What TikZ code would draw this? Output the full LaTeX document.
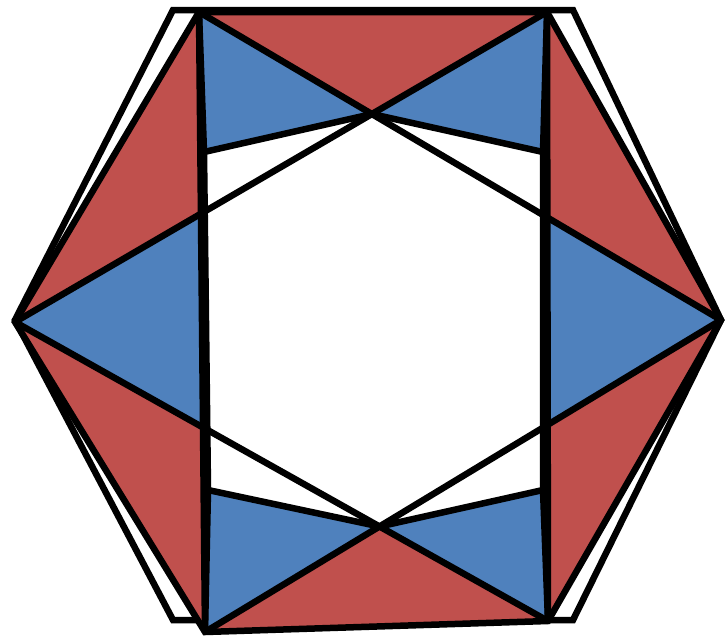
\documentclass[tikz,border=0pt]{standalone}
\definecolor{rd}{HTML}{C0504D}
\definecolor{bl}{HTML}{4F81BD}
\begin{document}
\begin{tikzpicture}[x=1pt,y=-1pt,
  ln/.style={line width=6.5pt,black},
  redfill/.style={fill=rd},
  bluefill/.style={fill=bl}]
\useasboundingbox (0,0) rectangle (725,638);
% outer hexagon
\coordinate (O1) at (173,10);
\coordinate (O2) at (573,10);
\coordinate (O3) at (721,320);
\coordinate (O4) at (573,620);
\coordinate (O5) at (173,620);
\coordinate (O6) at (15,320);
% inner hexagon
\coordinate (A) at (199,12);
\coordinate (B) at (547,12);
\coordinate (C) at (721,320);
\coordinate (D) at (548,621);
\coordinate (E) at (205,632);
\coordinate (F) at (15,322);
\coordinate (Q1) at (204,152);
\coordinate (Q5) at (208,490);
\coordinate (Q2) at (543,152);
\coordinate (Q6) at (543,490);
\coordinate (Pt) at (intersection of F--B and A--C);
\coordinate (Pb) at (intersection of F--D and E--C);
\coordinate (L1) at (intersection of F--B and Q1--Q5);
\coordinate (L2) at (intersection of F--D and Q1--Q5);
\coordinate (R1) at (intersection of A--C and Q2--Q6);
\coordinate (R2) at (intersection of E--C and Q2--Q6);
\draw[ln,fill=white] (O1) -- (O2) -- (O3) -- (O4) -- (O5) -- (O6) -- cycle;
% red
\fill[redfill] (A) -- (F) -- (E) -- cycle;
\fill[redfill] (B) -- (C) -- (D) -- cycle;
\fill[redfill] (A) -- (B) -- (Pt) -- cycle;
\fill[redfill] (E) -- (D) -- (Pb) -- cycle;
% blue
\fill[bluefill] (A) -- (Pt) -- (Q1) -- cycle;
\fill[bluefill] (B) -- (Pt) -- (Q2) -- cycle;
\fill[bluefill] (E) -- (Pb) -- (Q5) -- cycle;
\fill[bluefill] (D) -- (Pb) -- (Q6) -- cycle;
\fill[bluefill] (F) -- (L1) -- (L2) -- cycle;
\fill[bluefill] (C) -- (R1) -- (R2) -- cycle;
% lines
\draw[ln] (A) -- (B) -- (C) -- (D) -- (E) -- (F) -- cycle;
\draw[ln] (A) -- (E);
\draw[ln] (B) -- (D);
\draw[ln] (A) -- (Q1) -- (Q5) -- (E);
\draw[ln] (B) -- (Q2) -- (Q6) -- (D);
\draw[ln] (F) -- (B);
\draw[ln] (A) -- (C);
\draw[ln] (F) -- (D);
\draw[ln] (E) -- (C);
\draw[ln] (Q1) -- (Pt) -- (Q2);
\draw[ln] (Q5) -- (Pb) -- (Q6);
\end{tikzpicture}
\end{document}
